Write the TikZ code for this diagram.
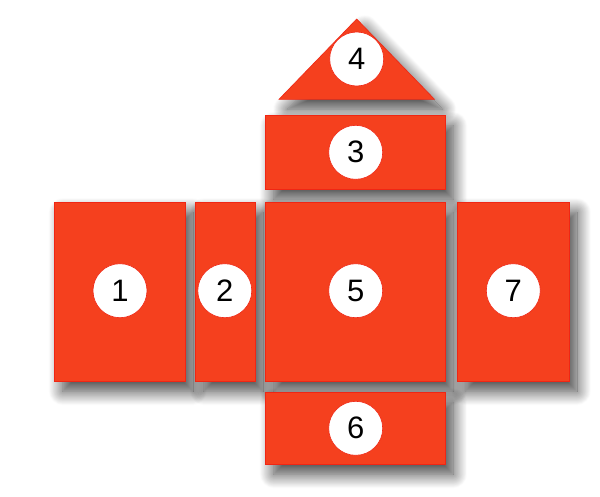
\documentclass[tikz,border=0pt]{standalone}
\usepackage{fontspec}
\setmainfont{Liberation Sans}
\usetikzlibrary{shadows.blur}
\definecolor{panel}{RGB}{245,64,30}
\definecolor{edge}{RGB}{240,38,20}
\tikzset{
  shade7/.style={blur shadow={shadow xshift=8pt, shadow yshift=-10pt, shadow blur radius=14pt, shadow blur steps=20, shadow opacity=75}},
  panelbox/.style={rectangle, fill=panel, draw=edge, line width=0.6pt, inner sep=0pt, shade7},
  panelshape/.style={fill=panel, draw=edge, line width=0.6pt, line join=miter, shade7},
  badge/.style={circle, fill=white, draw=edge, line width=0.6pt, minimum size=54pt, inner sep=0pt, font=\fontsize{31}{31}\selectfont}
}
\begin{document}
\begin{tikzpicture}[x=1pt,y=-1pt]
\useasboundingbox (0,0) rectangle (600,496);
% panels
\coordinate (t4a) at (356.7,19);
\coordinate (t4b) at (279,99.3);
\coordinate (t4c) at (434.5,99.3);
\path[panelshape] (t4a) -- (t4b) -- (t4c) -- cycle;
\node[panelbox, minimum width=179.6pt, minimum height=73.6pt] (p3) at (355.5,152.5) {};
\node[panelbox, minimum width=130.3pt, minimum height=179.3pt] (p1) at (119.85,291.65) {};
\node[panelbox, minimum width=59.3pt, minimum height=179.3pt] (p2) at (225.35,291.65) {};
\node[panelbox, minimum width=179.5pt, minimum height=179.3pt] (p5) at (355.45,291.65) {};
\node[panelbox, minimum width=111.7pt, minimum height=179.3pt] (p7) at (513.15,291.65) {};
\node[panelbox, minimum width=179.5pt, minimum height=72.3pt] (p6) at (355.45,428.15) {};
% badges
\node[badge] (b4) at (356.7,59) {4};
\node[badge] (b3) at (355.7,152.3) {3};
\node[badge] (b1) at (120,290.7) {1};
\node[badge] (b2) at (224.8,290.7) {2};
\node[badge] (b5) at (355.7,290.7) {5};
\node[badge] (b7) at (513.3,290.7) {7};
\node[badge] (b6) at (355.7,428.3) {6};
\end{tikzpicture}
\end{document}
